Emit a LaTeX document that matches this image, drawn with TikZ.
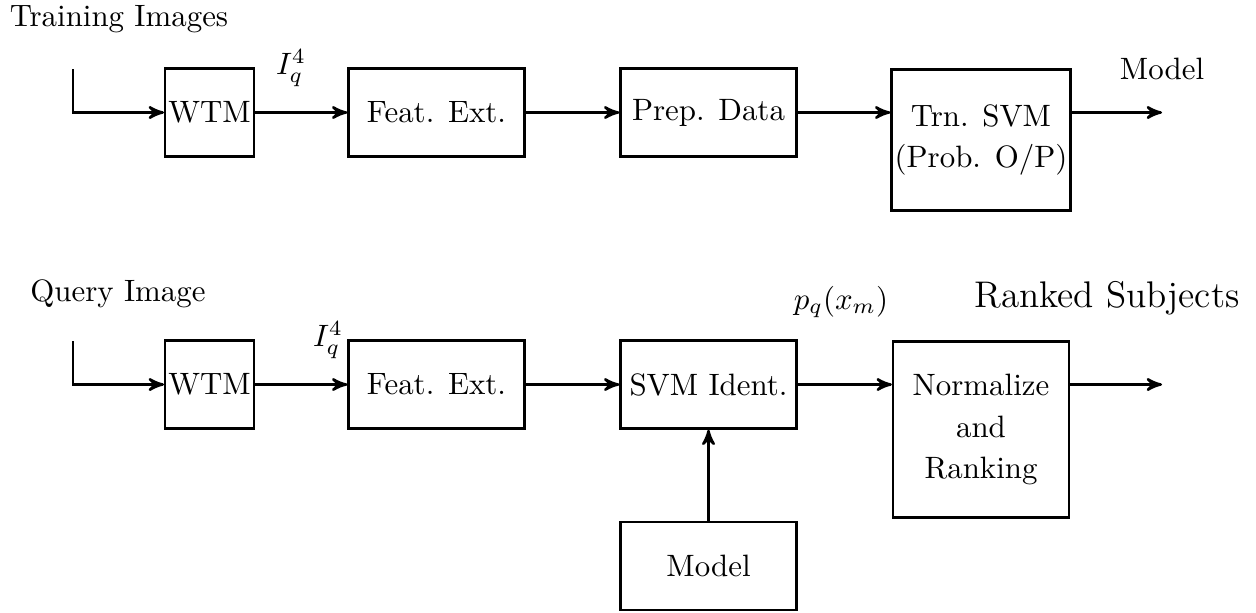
\documentclass[tikz,border=0pt]{standalone}
\usetikzlibrary{arrows}
\begin{document}
\begin{tikzpicture}[x=0.3236pt,y=-0.3236pt,>=stealth',
  blk/.style={draw, thick, inner sep=1pt, minimum width=2cm, minimum height=1cm, align=center},
  lbl/.style={inner sep=0pt},
  lnk/.style={->, thick}]
\useasboundingbox (0,0) rectangle (1256,612);
% training chain
\node [lbl] (trlab) at (119,19) {Training Images};
\coordinate (inA) at (73,69);
\node [blk, minimum width=1cm] (wtmA) at (209.5,112.5) {WTM};
\node [blk] (featA) at (436.5,112.5) {Feat. Ext.};
\node [blk] (prepA) at (708.5,112.5) {Prep. Data};
\node [blk, minimum height=1.6cm] (trnA) at (981,140) {Trn. SVM\\[1.5pt](Prob. O/P)};
\coordinate (outA) at (1162,112.5);
\node [lbl] (iqA) at (291,68) {$I_q^4$};
\node [lbl] (mdlab) at (1162,69) {Model};
\draw [lnk] (inA) |- (wtmA);
\draw [lnk] (wtmA) -- (featA);
\draw [lnk] (featA) -- (prepA);
\draw [lnk] (prepA.east) -- (prepA.east -| trnA.west);
\draw [lnk] (trnA.east |- prepA.east) -- (outA);
% query chain
\node [lbl] (qlab) at (118,294) {Query Image};
\coordinate (inB) at (73,341);
\node [blk, minimum width=1cm] (wtmB) at (209.5,384.5) {WTM};
\node [blk] (featB) at (436.5,384.5) {Feat. Ext.};
\node [blk] (svmB) at (708.5,384.5) {SVM Ident.};
\node [blk, minimum height=2cm] (normB) at (981,429.5) {Normalize\\[1.5pt]and\\[1.5pt]Ranking};
\node [blk] (modelB) at (708.5,566) {Model};
\coordinate (outB) at (1162,384.5);
\node [lbl] (iqB) at (328,340) {$I_q^4$};
\node [lbl] (pqB) at (841,302) {$p_q(x_m)$};
\node [lbl] (rklab) at (1107,298) {\large Ranked Subjects};
\draw [lnk] (inB) |- (wtmB);
\draw [lnk] (wtmB) -- (featB);
\draw [lnk] (featB) -- (svmB);
\draw [lnk] (svmB.east) -- (svmB.east -| normB.west);
\draw [lnk] (normB.east |- svmB.east) -- (outB);
\draw [lnk] (modelB) -- (svmB);
\end{tikzpicture}
\end{document}
